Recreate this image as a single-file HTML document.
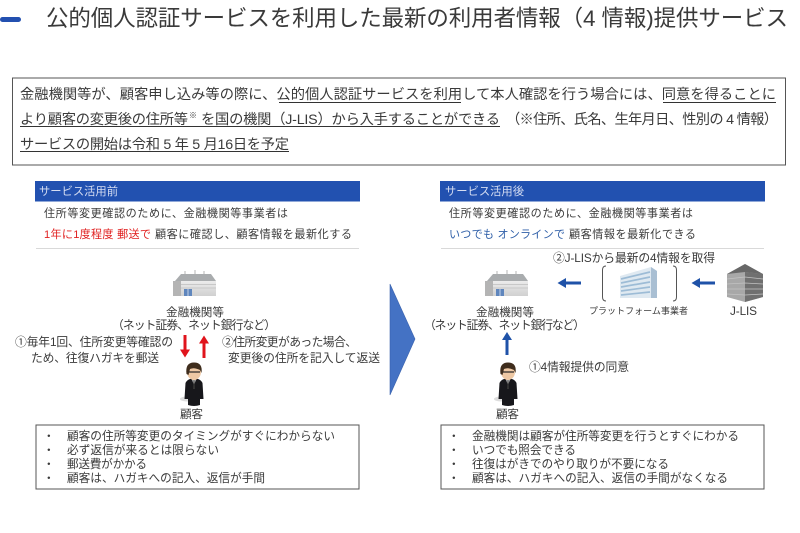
<!DOCTYPE html>
<html lang="ja">
<head>
<meta charset="utf-8">
<style>
html,body{margin:0;padding:0;background:#fff;width:800px;height:533px;overflow:hidden}
svg{display:block}
text{font-family:"Liberation Sans","Noto Sans CJK JP",sans-serif;fill:#3a3a3a}
.u{stroke:#333;stroke-width:.9}
</style>
</head>
<body>
<svg width="800" height="533" viewBox="0 0 800 533" xmlns="http://www.w3.org/2000/svg">
<defs>
<linearGradient id="bld" x1="0" y1="0" x2="0" y2="1"><stop offset="0" stop-color="#ececec"/><stop offset="1" stop-color="#d0d0d0"/></linearGradient>
<g id="bank">
<path d="M2 11 L8 4 H38 L43 11Z" fill="#a9acae"/>
<path d="M12 4 V1 M22 4 V0 M31 4 V1" stroke="#b5b5b5" stroke-width="1"/>
<rect x="0" y="11" width="43" height="15" fill="url(#bld)"/>
<rect x="0" y="11" width="8" height="15" fill="#b4b4b4"/>
<path d="M8 14.500 H43 M8 18 H43" stroke="#c8c8c8" stroke-width="1"/>
<rect x="11" y="19" width="8" height="7" fill="#5f86bd"/>
<path d="M15 19V26" stroke="#dfe6f0" stroke-width=".8"/>
</g>
<g id="person">
<ellipse cx="3" cy="36" rx="7" ry="2.500" fill="#ddd"/>
<path d="M1.500 20 Q3 16 10 15 Q17 16 18.500 20 L19.500 36 H16 V42 Q10 44 4 42 V36 H0.500Z" fill="#17171b"/>
<path d="M8 16 L10 23 L12 16Z" fill="#e8e8e8"/>
<path d="M9.500 17 h1 l.5 9 h-2z" fill="#333"/>
<ellipse cx="10" cy="9" rx="7" ry="8" fill="#eec8a4"/>
<path d="M2.500 11 Q1 -0.500 10 -0.500 Q19 -0.500 17.500 10 L16 7 Q10 4 6 6 L4.500 12Z" fill="#3f2d1d"/>
<path d="M5 9 H16" stroke="#222" stroke-width="1.200"/>
</g>
</defs>

<rect x="0" y="17" width="21" height="5" rx="2.500" fill="#2350b0"/>
<text x="46" y="26" font-size="22.500" textLength="742" lengthAdjust="spacing">公的個人認証サービスを利用した最新の利用者情報（4 情報)提供サービス</text>

<rect x="12.500" y="78" width="773" height="87" fill="#fff" stroke="#555" stroke-width="1"/>
<text x="20" y="99" font-size="14.260" textLength="756" lengthAdjust="spacing">金融機関等が、顧客申し込み等の際に、公的個人認証サービスを利用して本人確認を行う場合には、同意を得ることに</text>
<text x="20" y="124" font-size="14.260" textLength="168" lengthAdjust="spacing">より顧客の変更後の住所等</text>
<text x="189" y="118" font-size="8">※</text>
<text x="201" y="124" font-size="14.260" textLength="299" lengthAdjust="spacing">を国の機関（J-LIS）から入手することができる</text>
<text x="506" y="124" font-size="14.260" textLength="272" lengthAdjust="spacing">（※住所、氏名、生年月日、性別の 4 情報）</text>
<text x="20" y="149" font-size="14.260" textLength="269" lengthAdjust="spacing">サービスの開始は令和 5 年 5 月16日を予定</text>
<path class="u" d="M279 102.500H461 M663 102.500H776 M20 126.500H500 M20 151.500H289"/>

<!-- left -->
<rect x="35" y="181" width="325" height="20.500" fill="#2251b0"/>
<text x="39" y="195" font-size="11.300" style="fill:#d5ddf2" textLength="79" lengthAdjust="spacing">サービス活用前</text>
<text x="44" y="217" font-size="11.100" textLength="244" lengthAdjust="spacing">住所等変更確認のために、金融機関等事業者は</text>
<text x="44" y="238" font-size="11.100" style="fill:#e02020" textLength="107" lengthAdjust="spacing">1年に1度程度 郵送で</text>
<text x="155" y="238" font-size="11.100" textLength="197" lengthAdjust="spacing">顧客に確認し、顧客情報を最新化する</text>
<path d="M36 248.500H359" stroke="#d9d9d9" stroke-width="1"/>

<use href="#bank" x="173" y="270"/>
<text x="166" y="316" font-size="11.600" textLength="58" lengthAdjust="spacing">金融機関等</text>
<text x="112" y="329" font-size="11.800" textLength="164" lengthAdjust="spacing">（ネット証券、ネット銀行など）</text>

<path d="M183.500 335h3v14.500h3.500l-5 8-5-8h3.500z" fill="#e0141c"/>
<path d="M202.500 358v-14.500h-3.500l5-8 5 8h-3.500v14.500z" fill="#e0141c"/>

<text x="15" y="346" font-size="11.800" textLength="158" lengthAdjust="spacing">①毎年1回、住所変更等確認の</text>
<text x="31" y="362" font-size="11.800" textLength="128" lengthAdjust="spacing">ため、往復ハガキを郵送</text>
<text x="222" y="346" font-size="11.800" textLength="135" lengthAdjust="spacing">②住所変更があった場合、</text>
<text x="228" y="362" font-size="11.800" textLength="152" lengthAdjust="spacing">変更後の住所を記入して返送</text>

<use href="#person" x="184" y="363"/>
<text x="180" y="418" font-size="11.600" textLength="23" lengthAdjust="spacing">顧客</text>

<rect x="36" y="425" width="323" height="64" fill="#fff" stroke="#555" stroke-width="1"/>
<g font-size="11.650">
<text x="43" y="440">・</text><text x="67" y="440" textLength="268" lengthAdjust="spacing">顧客の住所等変更のタイミングがすぐにわからない</text>
<text x="43" y="454">・</text><text x="67" y="454" textLength="152" lengthAdjust="spacing">必ず返信が来るとは限らない</text>
<text x="43" y="468">・</text><text x="67" y="468" textLength="80" lengthAdjust="spacing">郵送費がかかる</text>
<text x="43" y="482">・</text><text x="67" y="482" textLength="198" lengthAdjust="spacing">顧客は、ハガキへの記入、返信が手間</text>
</g>

<!-- chevron -->
<path d="M390 284 L415 339 L390 395Z" fill="#4472c4" stroke="#3a62ad" stroke-width=".6"/>

<!-- right -->
<rect x="440" y="181" width="325" height="20.500" fill="#2251b0"/>
<text x="445" y="195" font-size="11.300" style="fill:#d5ddf2" textLength="79" lengthAdjust="spacing">サービス活用後</text>
<text x="449" y="217" font-size="11.100" textLength="244" lengthAdjust="spacing">住所等変更確認のために、金融機関等事業者は</text>
<text x="449" y="238" font-size="11.100" style="fill:#2f5fa8" textLength="116" lengthAdjust="spacing">いつでも オンラインで</text>
<text x="569" y="238" font-size="11.100" textLength="127" lengthAdjust="spacing">顧客情報を最新化できる</text>
<path d="M441 248.500H764" stroke="#d9d9d9" stroke-width="1"/>

<text x="553" y="262" font-size="11.800" textLength="162" lengthAdjust="spacing">②J-LISから最新の4情報を取得</text>

<use href="#bank" x="485" y="270"/>
<path d="M581 281.500v3h-15v3.500l-8.500-5 8.500-5v3.500z" fill="#1f52a8"/>
<path d="M715 281.500v3h-15v3.500l-8.500-5 8.500-5v3.500z" fill="#1f52a8"/>

<path d="M606 266 Q602.500 266 602.500 270 V297 Q602.500 301 606 301 M673 266 Q676.500 266 676.500 270 V297 Q676.500 301 673 301" fill="none" stroke="#555" stroke-width="1"/>
<path d="M620 276 L651 267 L657 271 V298 H620Z" fill="#dfe9f1"/>
<path d="M651 267 L657 271 V298 H651Z" fill="#a9bfd3"/>
<path d="M621 279L650 272 M621 283L650 277 M621 287L650 282 M621 291L650 287 M621 295L650 292" stroke="#9dbcd6" stroke-width="1.700"/>

<path d="M745 264 L763 274 V297 L745 302 L727 297 V274Z" fill="#a8a8a8"/>
<path d="M745 272 L763 274 V297 L745 302Z" fill="#707070"/>
<path d="M745 264 L763 274 L745 272 L727 274Z" fill="#686868"/>
<path d="M727 279 L745 277 L763 279 M727 284 L745 283 L763 284 M727 289 L745 289 L763 289 M727 294 L745 295 L763 294" fill="none" stroke="#c2c2c2" stroke-width=".8"/>

<text x="589" y="314" font-size="9" textLength="99" lengthAdjust="spacing">プラットフォーム事業者</text>
<text x="730" y="315" font-size="11.800" textLength="27" lengthAdjust="spacing">J-LIS</text>
<text x="476" y="316" font-size="11.600" textLength="58" lengthAdjust="spacing">金融機関等</text>
<text x="424" y="329" font-size="11.800" textLength="161" lengthAdjust="spacing">（ネット証券、ネット銀行など）</text>

<path d="M505.500 355v-15h-3.500l5-8 5 8h-3.500v15z" fill="#1f52a8"/>
<text x="529" y="371" font-size="11.800" textLength="100" lengthAdjust="spacing">①4情報提供の同意</text>

<use href="#person" x="498" y="363"/>
<text x="496" y="418" font-size="11.600" textLength="23" lengthAdjust="spacing">顧客</text>

<rect x="441" y="425" width="323" height="64" fill="#fff" stroke="#555" stroke-width="1"/>
<g font-size="11.650">
<text x="448" y="440">・</text><text x="472" y="440" textLength="267" lengthAdjust="spacing">金融機関は顧客が住所等変更を行うとすぐにわかる</text>
<text x="448" y="454">・</text><text x="472" y="454" textLength="104" lengthAdjust="spacing">いつでも照会できる</text>
<text x="448" y="468">・</text><text x="472" y="468" textLength="197" lengthAdjust="spacing">往復はがきでのやり取りが不要になる</text>
<text x="448" y="482">・</text><text x="472" y="482" textLength="256" lengthAdjust="spacing">顧客は、ハガキへの記入、返信の手間がなくなる</text>
</g>
</svg>
</body>
</html>
